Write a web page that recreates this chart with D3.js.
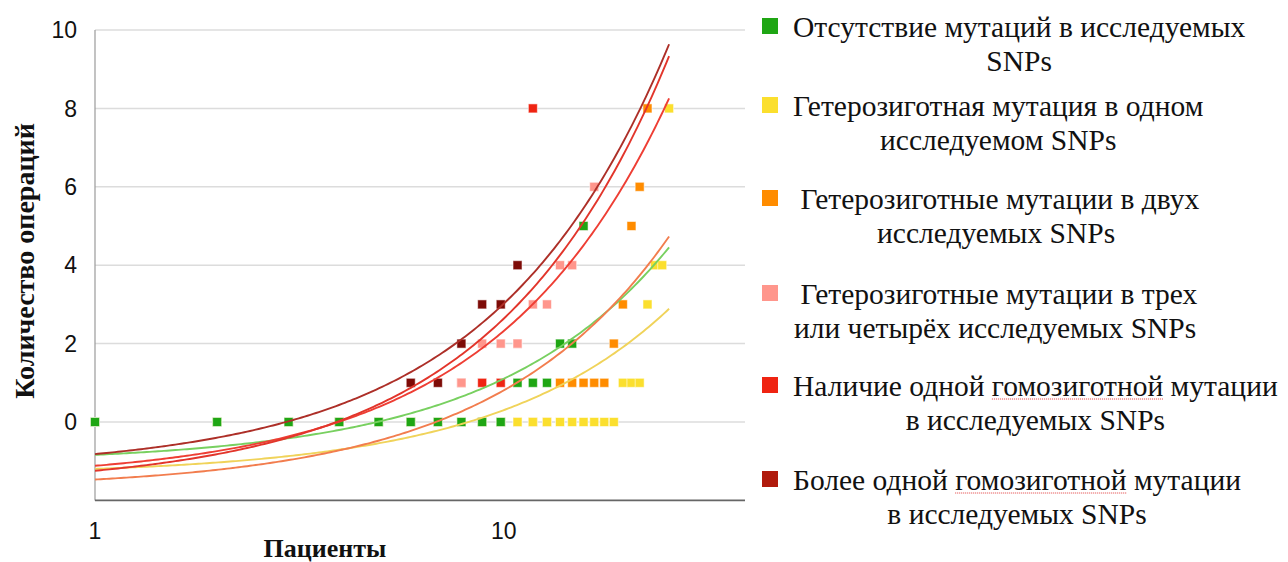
<!DOCTYPE html>
<html>
<head>
<meta charset="utf-8">
<script src="https://cdn.jsdelivr.net/npm/d3@7"></script>
<style>
  body { margin: 0; background: #fff; }
  svg { display: block; }
</style>
</head>
<body>
<svg id="chart" width="1288" height="562"></svg>
<script>
// values per patient (patient 1, 2, 3, ...) for each group
const noMutation   = [0, 0, 0, 0, 0, 0, 0, 0, 0, 0, 1, 1, 1, 2, 2, 5];
const hetOne       = [0, 0, 0, 0, 0, 0, 0, 0, 0, 0, 0, 0, 0, 0, 0, 0, 0, 0, 0, 1, 1, 1, 3, 4, 4, 8];
const hetTwo       = [0, 0, 0, 0, 0, 0, 0, 0, 0, 0, 0, 0, 0, 1, 1, 1, 1, 1, 2, 3, 5, 6, 8];
const hetThreeFour = [0, 0, 0, 0, 0, 0, 0, 1, 2, 2, 2, 3, 3, 4, 4, 5, 6];
const homOne       = [0, 0, 0, 0, 0, 0, 0, 1, 1, 1, 2, 8];
const homMulti     = [0, 0, 0, 0, 0, 1, 1, 2, 3, 3, 4];

const legendLabels = [
  ["Отсутствие мутаций в исследуемых", "SNPs"],
  ["Гетерозиготная мутация в одном", "исследуемом SNPs"],
  ["\u00a0Гетерозиготные мутации в двух", "исследуемых SNPs"],
  ["\u00a0Гетерозиготные мутации в трех", "или четырёх исследуемых SNPs"],
  ["Наличие одной гомозиготной мутации", "в исследуемых SNPs"],
  ["Более одной гомозиготной мутации", "в исследуемых SNPs"]
];
const underlinedWord = "гомозиготной";

const yTicks = [0, 2, 4, 6, 8, 10];
const xTicks = [1, 10];
const xTitle = "Пациенты";
const yTitle = "Количество операций";

(function () {
  const series = [
    { values: noMutation,   color: "#1fa614", trend: "#78d060" },
    { values: hetOne,       color: "#fbdf2e", trend: "#f0d35a" },
    { values: hetTwo,       color: "#ff8c00", trend: "#f27d4e" },
    { values: hetThreeFour, color: "#ff968c", trend: "#ee3e34" },
    { values: homOne,       color: "#ef2412", trend: "#e2352b" },
    { values: homMulti,     color: "#7d0b07", trend: "#ad2f28" }
  ];
  const legendColors = ["#1fa614", "#fbdf2e", "#ff8c00", "#ff968c", "#ef2412", "#b01a0c"];
  // marker drawing order (bottom to top)
  const drawOrder = [4, 3, 5, 2, 1, 0];

  const svg = d3.select("#chart");
  const left = 95, right = 745, plotTop = 30, plotBottom = 500.4;
  const sansFont = "'Liberation Sans', Arial, Helvetica, sans-serif";
  const serifFont = "'Liberation Serif', 'Times New Roman', serif";

  const x = d3.scaleLog().domain([1, 40]).range([left, right]);
  const y = d3.scaleLinear().domain([-2, 10]).range([plotBottom, plotTop]);

  // grid lines
  svg.append("g")
    .selectAll("line")
    .data(yTicks)
    .enter().append("line")
    .attr("x1", left)
    .attr("x2", right)
    .attr("y1", d => y(d))
    .attr("y2", d => y(d))
    .attr("stroke", "#dcdcdc")
    .attr("stroke-width", 1.5);

  // y axis line
  svg.append("line")
    .attr("x1", left).attr("x2", left)
    .attr("y1", plotTop).attr("y2", plotBottom)
    .attr("stroke", "#9a9a9a")
    .attr("stroke-width", 1.2);

  // x axis line
  svg.append("line")
    .attr("x1", left).attr("x2", right)
    .attr("y1", plotBottom).attr("y2", plotBottom)
    .attr("stroke", "#666")
    .attr("stroke-width", 1.6);

  // tick labels
  svg.append("g")
    .selectAll("text")
    .data(yTicks)
    .enter().append("text")
    .attr("x", 77)
    .attr("y", d => y(d))
    .attr("dy", "0.36em")
    .attr("text-anchor", "end")
    .attr("font-family", sansFont)
    .attr("font-size", 23)
    .attr("fill", "#111")
    .text(d => d);

  svg.append("g")
    .selectAll("text")
    .data(xTicks)
    .enter().append("text")
    .attr("x", d => x(d) + (d > 1 ? 3 : 0))
    .attr("y", 531)
    .attr("dy", "0.36em")
    .attr("text-anchor", "middle")
    .attr("font-family", sansFont)
    .attr("font-size", 23)
    .attr("fill", "#111")
    .text(d => d);

  // axis titles
  svg.append("text")
    .attr("x", 325)
    .attr("y", 557)
    .attr("text-anchor", "middle")
    .attr("font-family", serifFont)
    .attr("font-weight", "bold")
    .attr("font-size", 26)
    .attr("fill", "#111")
    .text(xTitle);

  svg.append("text")
    .attr("transform", "translate(24,261) rotate(-90)")
    .attr("dy", "0.35em")
    .attr("text-anchor", "middle")
    .attr("font-family", serifFont)
    .attr("font-weight", "bold")
    .attr("font-size", 28)
    .attr("fill", "#111")
    .text(yTitle);

  // points
  const size = 9;
  drawOrder.forEach(si => {
    const s = series[si];
    svg.append("g")
      .selectAll("rect")
      .data(s.values)
      .enter().append("rect")
      .attr("x", (d, i) => x(i + 1) - size / 2)
      .attr("y", d => y(d) - size / 2)
      .attr("width", size)
      .attr("height", size)
      .attr("fill", s.color)
      .attr("stroke", "rgba(255,255,255,0.55)")
      .attr("stroke-width", 1);
  });

  // linear trend lines (least squares), drawn across all patients
  const maxN = d3.max(series, s => s.values.length);
  const samples = d3.range(0, 201).map(i => Math.pow(maxN, i / 200));
  const line = d3.line().x(d => x(d[0])).y(d => y(d[1]));

  series.forEach(s => {
    const pts = s.values.map((v, i) => [i + 1, v]);
    const mx = d3.mean(pts, p => p[0]);
    const my = d3.mean(pts, p => p[1]);
    const sxy = d3.sum(pts, p => (p[0] - mx) * (p[1] - my));
    const sxx = d3.sum(pts, p => (p[0] - mx) * (p[0] - mx));
    const b = sxy / sxx;
    const a = my - b * mx;
    svg.append("path")
      .attr("d", line(samples.map(t => [t, a + b * t])))
      .attr("fill", "none")
      .attr("stroke", s.trend)
      .attr("stroke-width", 1.9);
  });

  // legend
  const legendRowY = [26, 105, 198, 293, 385, 479];
  const legendSize = 29.5;
  const legend = svg.append("g");
  legendLabels.forEach((lines, i) => {
    const cy = legendRowY[i];
    legend.append("rect")
      .attr("x", 762)
      .attr("y", cy - 8)
      .attr("width", 16)
      .attr("height", 16)
      .attr("fill", legendColors[i]);

    const t1 = legend.append("text")
      .attr("x", 793)
      .attr("y", cy + 1)
      .attr("dy", "0.35em")
      .attr("font-family", serifFont)
      .attr("font-size", legendSize)
      .attr("fill", "#111")
      .text(lines[0]);

    const w = t1.node().getComputedTextLength();
    legend.append("text")
      .attr("x", 793 + w / 2)
      .attr("y", cy + 35)
      .attr("dy", "0.35em")
      .attr("text-anchor", "middle")
      .attr("font-family", serifFont)
      .attr("font-size", legendSize)
      .attr("fill", "#111")
      .text(lines[1]);

    // spell-check style underline
    const k = lines[0].indexOf(underlinedWord);
    if (k >= 0) {
      const node = t1.node();
      const x0 = 793 + node.getSubStringLength(0, k);
      const ww = node.getSubStringLength(k, underlinedWord.length);
      legend.append("line")
        .attr("x1", x0).attr("x2", x0 + ww)
        .attr("y1", cy + 14).attr("y2", cy + 14)
        .attr("stroke", "#e03a3a")
        .attr("stroke-width", 1)
        .attr("stroke-dasharray", "1,1");
    }
  });
})();
</script>
</body>
</html>
